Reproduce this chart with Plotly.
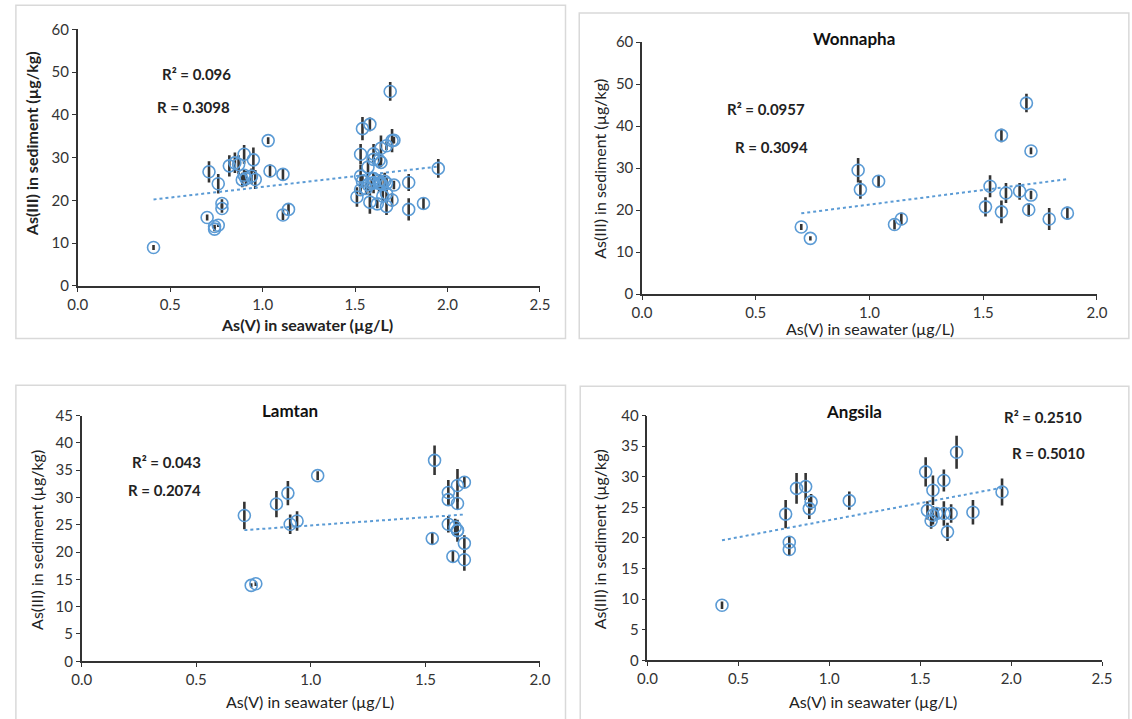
import numpy as np
import plotly.graph_objects as go

W, H = 1132, 719

# ---------------- data ----------------
# Wonnapha
w_x = [0.70, 0.74, 0.95, 0.96, 1.04, 1.11, 1.14, 1.51, 1.53, 1.58, 1.58, 1.60, 1.66, 1.71, 1.69, 1.71, 1.70, 1.79, 1.87]
w_y = [16.0, 13.3, 29.5, 24.9, 26.9, 16.6, 17.9, 20.8, 25.7, 37.8, 19.6, 24.1, 24.5, 23.6, 45.5, 34.1, 20.1, 17.9, 19.3]
w_err = [0.7, 0.5, 2.9, 2.2, 1.5, 1.2, 1.5, 2.3, 2.6, 1.6, 2.7, 2.4, 2.0, 1.0, 2.2, 0.8, 1.6, 2.6, 1.5]

# Lamtan
l_x = [0.71, 0.74, 0.76, 0.85, 0.90, 0.91, 0.94, 1.03, 1.53, 1.54, 1.60, 1.60, 1.60, 1.62, 1.63, 1.64, 1.64, 1.64, 1.64, 1.67, 1.67, 1.67]
l_y = [26.7, 13.9, 14.2, 28.8, 30.8, 25.1, 25.7, 34.0, 22.5, 36.8, 30.9, 29.6, 25.1, 19.2, 24.6, 24.0, 28.9, 32.2, 23.9, 32.8, 21.6, 18.6]
l_err = [2.5, 0.4, 0.4, 2.4, 2.2, 1.8, 1.8, 0.8, 1.1, 2.7, 2.3, 1.0, 1.5, 1.0, 1.5, 1.5, 1.0, 3.0, 2.0, 1.0, 1.5, 2.0]

# Angsila
a_x = [0.41, 0.76, 0.78, 0.78, 0.82, 0.87, 0.89, 0.90, 1.11, 1.53, 1.54, 1.56, 1.57, 1.57, 1.59, 1.63, 1.63, 1.65, 1.67, 1.70, 1.79, 1.95]
a_y = [9.0, 23.9, 19.3, 18.1, 28.1, 28.4, 24.8, 25.9, 26.1, 30.8, 24.5, 22.8, 27.8, 23.7, 24.0, 29.4, 24.0, 21.0, 24.0, 34.0, 24.2, 27.5]
a_err = [0.6, 2.3, 1.0, 1.0, 2.5, 2.2, 1.7, 1.3, 1.5, 2.4, 1.5, 1.3, 2.4, 1.5, 1.0, 1.8, 2.0, 1.5, 1.5, 2.7, 2.0, 2.2]

# All sites (top-left panel) = union of the three sites
all_x = w_x + l_x + a_x
all_y = w_y + l_y + a_y
all_err = w_err + l_err + a_err

panel_titles = ["", "Wonnapha", "Lamtan", "Angsila"]
r2_labels = ["R² = 0.096", "R² = 0.0957", "R² = 0.043", "R² = 0.2510"]
r_labels = ["R = 0.3098", "R = 0.3094", "R = 0.2074", "R = 0.5010"]
x_title = "As(V) in seawater (µg/L)"
y_title = "As(III) in sediment (µg/kg)"

# ---------------- layout helpers ----------------
def px(x):
    return x / W

def py(y):
    return 1 - y / H

FONT = "Lato, 'Open Sans', sans-serif"
BLUE = "#5B9BD5"
TXT = "#222222"

panels = [
    dict(x=all_x, y=all_y, e=all_err, xd=(69, 540), yd=(20, 283), xr=2.5, yr=60, dt=10,
         r2=(0.645, 49.7), r=(0.627, 41.8), title=None, ytit=(22, 137), xtit=(303, 323), bold=True),
    dict(x=w_x, y=w_y, e=w_err, xd=(644, 1107.5), yd=(33, 291.5), xr=2.0, yr=60, dt=10,
         r2=(0.547, 44.0), r=(0.570, 35.0), title=(860, 29), ytit=(601, 163), xtit=(876, 327), bold=False),
    dict(x=l_x, y=l_y, e=l_err, xd=(73, 540), yd=(416, 668), xr=2.0, yr=45, dt=5,
         r2=(0.37, 36.5), r=(0.36, 31.3), title=(285, 411), ytit=(27, 543), xtit=(306, 709), bold=False),
    dict(x=a_x, y=a_y, e=a_err, xd=(649.5, 1112.7), yd=(416, 667), xr=2.5, yr=40, dt=5,
         r2=(2.175, 39.7), r=(2.204, 33.9), title=(860, 412), ytit=(601, 543), xtit=(879, 709), bold=False),
]

fig = go.Figure()
annotations = []
layout = {}

for i, p in enumerate(panels):
    k = "" if i == 0 else str(i + 1)
    xa, ya = "x" + k, "y" + k
    xs = np.array(p["x"], dtype=float)
    ys = np.array(p["y"], dtype=float)

    fig.add_trace(go.Scatter(
        x=xs, y=ys, mode="markers", xaxis=xa, yaxis=ya, showlegend=False,
        marker=dict(symbol="circle-open", size=12, color=BLUE, line=dict(width=1.6, color=BLUE)),
        error_y=dict(type="data", array=p["e"], visible=True, color="#333333", thickness=2.6, width=0),
        cliponaxis=False,
    ))

    # linear trendline (least squares from the data)
    m, b = np.polyfit(xs, ys, 1)
    tx = np.array([xs.min(), xs.max()])
    fig.add_trace(go.Scatter(
        x=tx, y=m * tx + b, mode="lines", xaxis=xa, yaxis=ya, showlegend=False,
        line=dict(color=BLUE, width=2, dash="dot"), hoverinfo="skip",
    ))

    axfont = dict(family=FONT, size=15, color="#333333")
    layout["xaxis" + k] = dict(
        domain=[px(p["xd"][0]), px(p["xd"][1])], anchor=ya, range=[0, p["xr"]],
        dtick=0.5, tick0=0, tickformat=".1f", showgrid=False, zeroline=False,
        showline=True, linecolor="#333333", linewidth=1.5,
        ticks="outside", ticklen=4, tickcolor="#333333", tickwidth=1.2,
        tickfont=axfont, fixedrange=True,
    )
    layout["yaxis" + k] = dict(
        domain=[py(p["yd"][1]), py(p["yd"][0])], anchor=xa, range=[0, p["yr"]],
        dtick=p["dt"], tick0=0, showgrid=False, zeroline=False,
        showline=True, linecolor="#333333", linewidth=1.5,
        ticks="outside", ticklen=4, tickcolor="#333333", tickwidth=1.2,
        tickfont=axfont, fixedrange=True,
    )

    wt = "bold" if p["bold"] else "normal"
    tfont = dict(family=FONT, size=16, color=TXT, weight=wt)
    annotations.append(dict(text=x_title, x=px(p["xtit"][0]), y=py(p["xtit"][1]), xref="paper", yref="paper",
                            showarrow=False, font=tfont, xanchor="center", yanchor="middle"))
    annotations.append(dict(text=y_title, x=px(p["ytit"][0]), y=py(p["ytit"][1]), xref="paper", yref="paper",
                            showarrow=False, font=tfont, textangle=-90, xanchor="center", yanchor="middle"))
    rfont = dict(family=FONT, size=15, color=TXT, weight="bold")
    annotations.append(dict(text=r2_labels[i], x=p["r2"][0], y=p["r2"][1], xref=xa, yref=ya,
                            showarrow=False, font=rfont, xanchor="center", yanchor="middle"))
    annotations.append(dict(text=r_labels[i], x=p["r"][0], y=p["r"][1], xref=xa, yref=ya,
                            showarrow=False, font=rfont, xanchor="center", yanchor="middle"))
    if p["title"]:
        annotations.append(dict(text=panel_titles[i], x=px(p["title"][0]), y=py(p["title"][1]),
                                xref="paper", yref="paper", showarrow=False,
                                font=dict(family=FONT, size=17, color="#111111", weight="bold"),
                                xanchor="center", yanchor="middle"))

# panel frames
frames = [(6, -5, 566, 337), (580, 3, 1140, 337), (6, 385, 566, 740), (581, 386, 1140, 740)]
shapes = [dict(type="rect", xref="paper", yref="paper", x0=px(a), x1=px(c), y0=py(d), y1=py(b),
               line=dict(color="#d9d9d9", width=1.5), layer="below") for a, b, c, d in frames]

fig.update_layout(
    width=W, height=H, margin=dict(l=0, r=0, t=0, b=0),
    paper_bgcolor="white", plot_bgcolor="rgba(0,0,0,0)",
    annotations=annotations, shapes=shapes, showlegend=False,
    font=dict(family=FONT, color=TXT),
    **layout,
)

fig.write_html("out.html", include_plotlyjs=True, config={"displayModeBar": False},
               post_script="document.body.style.margin='0';document.body.style.overflow='hidden';")
